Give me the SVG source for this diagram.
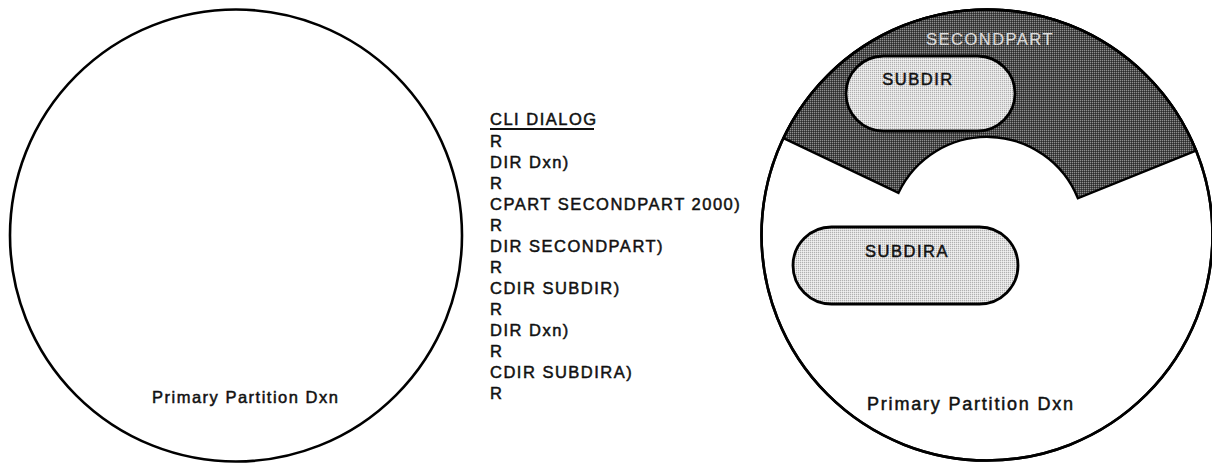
<svg xmlns="http://www.w3.org/2000/svg" width="1212" height="464" viewBox="0 0 1212 464">
  <defs>
    <pattern id="dark" width="2" height="2" patternUnits="userSpaceOnUse">
      <rect width="2" height="2" fill="#4a4a4a"/>
      <rect width="1" height="1" fill="#8e8e8e"/>
      <rect x="1" y="1" width="1" height="1" fill="#2a2a2a"/>
    </pattern>
    <pattern id="light" width="2" height="2" patternUnits="userSpaceOnUse">
      <rect width="2" height="2" fill="#e0e0e0"/>
      <rect width="1" height="1" fill="#b0b0b0"/>
      <rect x="1" y="1" width="1" height="1" fill="#f0f0f0"/>
    </pattern>
    <style>
      .disk { fill: #ffffff; stroke: #000; stroke-width: 2.6; }
      .pill { fill: url(#light); stroke: #000; stroke-width: 2.8; }
      .sector { fill: url(#dark); stroke: #000; stroke-width: 2.4; stroke-linejoin: miter; }
      .t { font-family: "Liberation Sans", Arial, sans-serif; font-size: 16.5px; letter-spacing: 1.5px; fill: #111; stroke: #111; stroke-width: 0.5; }
      .tl { font-size: 18px; letter-spacing: 1.8px; }
      .lightText { fill: #dadada; stroke: #dadada; stroke-width: 0.2; }
    </style>
  </defs>
  <rect width="1212" height="464" fill="#ffffff"/>

  <g id="left-disk">
    <circle class="disk" cx="236" cy="235.5" r="226"/>
    <text class="t" x="152" y="403">Primary Partition Dxn</text>
  </g>

  <g id="cli-dialog">
    <text class="t" x="490" y="125">CLI DIALOG</text>
    <line x1="490" y1="129" x2="594" y2="129" stroke="#111" stroke-width="1.8"/>
    <text class="t" x="490" y="147">R</text>
    <text class="t" x="490" y="168">DIR Dxn)</text>
    <text class="t" x="490" y="189">R</text>
    <text class="t" x="490" y="210">CPART SECONDPART 2000)</text>
    <text class="t" x="490" y="231">R</text>
    <text class="t" x="490" y="252">DIR SECONDPART)</text>
    <text class="t" x="490" y="273">R</text>
    <text class="t" x="490" y="294">CDIR SUBDIR)</text>
    <text class="t" x="490" y="315">R</text>
    <text class="t" x="490" y="336">DIR Dxn)</text>
    <text class="t" x="490" y="357">R</text>
    <text class="t" x="490" y="378">CDIR SUBDIRA)</text>
    <text class="t" x="490" y="399">R</text>
  </g>

  <g id="right-disk">
    <circle class="disk" cx="987" cy="235" r="225.5"/>
    <text class="t tl" x="867" y="410">Primary Partition Dxn</text>
  </g>

  <g id="secondpart">
    <path class="sector" d="M 783.5 138.1 A 225.5 225.5 0 0 1 1196.1 150.5 L 1077.9 198.3 A 98 98 0 0 0 898.5 192.8 Z"/>
    <circle cx="987" cy="235" r="225.5" fill="none" stroke="#000" stroke-width="2.6"/>
    <text class="t lightText" x="990" y="45" text-anchor="middle">SECONDPART</text>
  </g>

  <g id="subdir">
    <rect class="pill" x="846" y="56" width="169" height="75" rx="37.5" ry="37.5"/>
    <text class="t" x="918" y="85" text-anchor="middle">SUBDIR</text>
  </g>

  <g id="subdira">
    <rect class="pill" x="793" y="227" width="225" height="77" rx="38.5" ry="38.5"/>
    <text class="t" x="907" y="257" text-anchor="middle">SUBDIRA</text>
  </g>

  <g id="connectors"/>
</svg>
